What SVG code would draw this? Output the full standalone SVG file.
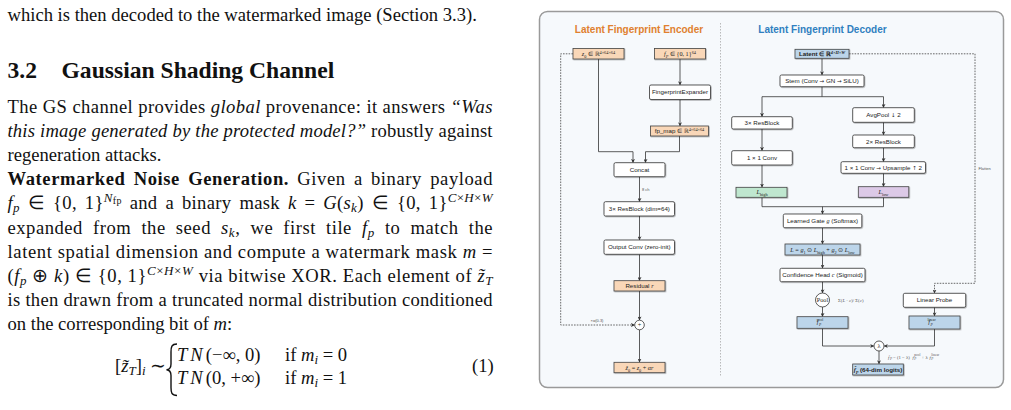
<svg xmlns="http://www.w3.org/2000/svg" width="1011" height="410" viewBox="0 0 1011 410">
<defs>
<style>
.p{font-family:"Liberation Serif","Times New Roman",serif;font-size:18.6px;fill:#111}
.h{font-family:"Liberation Serif","Times New Roman",serif;font-size:23.6px;font-weight:bold;fill:#111}
.i{font-style:italic}
.bd{font-weight:bold}
.w{fill:#fff;stroke:#333;stroke-width:0.8}
.o{fill:#f9d7b8;stroke:#444;stroke-width:0.8}
.b{fill:#bcd5ea;stroke:#444;stroke-width:0.8}
.g{fill:#bfe7cf;stroke:#444;stroke-width:0.8}
.v{fill:#dcc9e7;stroke:#444;stroke-width:0.8}
.t{font-family:"Liberation Sans",Arial,sans-serif;font-size:6.2px;fill:#222;text-anchor:middle}
.m{font-family:"Liberation Serif","Times New Roman",serif;font-size:6.2px;fill:#222;text-anchor:middle}
.ar{font-family:"DejaVu Sans",sans-serif;font-size:5.5px}
.s{font-family:"Liberation Sans",Arial,sans-serif;font-size:4px;fill:#555}
.f{font-family:"Liberation Serif","Times New Roman",serif;font-size:4.8px;fill:#555}
.c{fill:none;stroke:#333;stroke-width:0.8}
.d{fill:none;stroke:#444;stroke-width:0.8;stroke-dasharray:1.6 1.2}
</style>
<marker id="ar" viewBox="0 0 10 10" refX="9" refY="5" markerWidth="4" markerHeight="4" markerUnits="userSpaceOnUse" orient="auto">
<path d="M0,0 L10,5 L0,10 L3,5 z" fill="#333"/>
</marker>
<filter id="sh" x="-10%" y="-20%" width="130%" height="160%">
<feDropShadow dx="0.7" dy="0.7" stdDeviation="0.4" flood-color="#000" flood-opacity="0.35"/>
</filter>
</defs>

<!-- paper text -->
<g id="paper">
<text class="p" x="7.5" y="21">which is then decoded to the watermarked image (Section 3.3).</text>
<text class="h" x="7.5" y="78">3.2</text>
<text class="h" x="61.5" y="78">Gaussian Shading Channel</text>
<text class="p" x="7.5" y="112.5" textLength="485" lengthAdjust="spacing">The GS channel provides <tspan class="i">global</tspan> provenance: it answers <tspan class="i">“Was</tspan></text>
<text class="p" x="7.5" y="136.7" textLength="485" lengthAdjust="spacing"><tspan class="i">this image generated by the protected model?”</tspan> robustly against</text>
<text class="p" x="7.5" y="160.9">regeneration attacks.</text>
<text class="p" x="7.5" y="185.1" textLength="485" lengthAdjust="spacing" word-spacing="3"><tspan class="bd">Watermarked Noise Generation.</tspan>  Given a binary payload</text>
<text class="p" x="7.5" y="209.3" textLength="485" lengthAdjust="spacing" word-spacing="3"><tspan class="i">f</tspan><tspan class="i" font-size="13" baseline-shift="-3">p</tspan> ∈ {0, 1}<tspan class="i" font-size="13" baseline-shift="7">N</tspan><tspan font-size="10" baseline-shift="5">fp</tspan> and a binary mask <tspan class="i">k</tspan> = <tspan class="i">G</tspan>(<tspan class="i">s</tspan><tspan class="i" font-size="13" baseline-shift="-3">k</tspan>) ∈ {0, 1}<tspan class="i" font-size="13" baseline-shift="7">C</tspan><tspan font-size="13" baseline-shift="7">×</tspan><tspan class="i" font-size="13" baseline-shift="7">H</tspan><tspan font-size="13" baseline-shift="7">×</tspan><tspan class="i" font-size="13" baseline-shift="7">W</tspan></text>
<text class="p" x="7.5" y="233.5" textLength="485" lengthAdjust="spacing" word-spacing="5">expanded from the seed <tspan class="i">s</tspan><tspan class="i" font-size="13" baseline-shift="-3">k</tspan>, we first tile <tspan class="i">f</tspan><tspan class="i" font-size="13" baseline-shift="-3">p</tspan> to match the</text>
<text class="p" x="7.5" y="257.7" textLength="485" lengthAdjust="spacing">latent spatial dimension and compute a watermark mask <tspan class="i">m</tspan> =</text>
<text class="p" x="7.5" y="281.9" textLength="485" lengthAdjust="spacing">(<tspan class="i">f</tspan><tspan class="i" font-size="13" baseline-shift="-3">p</tspan> ⊕ <tspan class="i">k</tspan>) ∈ {0, 1}<tspan class="i" font-size="13" baseline-shift="7">C</tspan><tspan font-size="13" baseline-shift="7">×</tspan><tspan class="i" font-size="13" baseline-shift="7">H</tspan><tspan font-size="13" baseline-shift="7">×</tspan><tspan class="i" font-size="13" baseline-shift="7">W</tspan> via bitwise XOR. Each element of <tspan class="i">z̃</tspan><tspan class="i" font-size="13" baseline-shift="-3">T</tspan></text>
<text class="p" x="7.5" y="306.1" textLength="485" lengthAdjust="spacing">is then drawn from a truncated normal distribution conditioned</text>
<text class="p" x="7.5" y="330.3">on the corresponding bit of <tspan class="i">m</tspan>:</text>
<text class="p" x="115" y="372">[<tspan class="i">z̃</tspan><tspan class="i" font-size="13" baseline-shift="-3">T</tspan>]<tspan class="i" font-size="13" baseline-shift="-3">i</tspan> ∼</text>
<path d="M177,344 C171.5,344 171,347 171,352 L171,364 C171,368 169.5,369.5 166.5,369.8 C169.5,370.1 171,371.5 171,375.5 L171,387.5 C171,392.5 171.5,395.5 177,395.5" fill="none" stroke="#111" stroke-width="1.4"/>
<text class="p" x="177" y="361"><tspan class="i" letter-spacing="3">TN</tspan>(−∞, 0)</text>
<text class="p" x="285" y="361">if <tspan class="i">m</tspan><tspan class="i" font-size="13" baseline-shift="-3">i</tspan> = 0</text>
<text class="p" x="177" y="384"><tspan class="i" letter-spacing="3">TN</tspan>(0, +∞)</text>
<text class="p" x="285" y="384">if <tspan class="i">m</tspan><tspan class="i" font-size="13" baseline-shift="-3">i</tspan> = 1</text>
<text class="p" x="472" y="372">(1)</text>
</g>

<!-- panel -->
<g id="panel">
<rect x="539.5" y="11.5" width="464" height="376" rx="8" fill="#f6f9fc" stroke="#9a9a9a" stroke-width="1.5"/>
<line x1="720.5" y1="23" x2="720.5" y2="377" stroke="#aaa" stroke-width="0.8" stroke-dasharray="1.5 1.5"/>
<text x="639" y="32.5" font-family="Liberation Sans,Arial,sans-serif" font-size="10" font-weight="bold" fill="#e0802f" text-anchor="middle">Latent Fingerprint Encoder</text>
<text x="822.5" y="32.5" font-family="Liberation Sans,Arial,sans-serif" font-size="10" font-weight="bold" fill="#2f7fc0" text-anchor="middle">Latent Fingerprint Decoder</text>
</g>

<!-- connectors -->
<g id="connectors">
<path class="c" d="M680,59 V84.8" marker-end="url(#ar)"/>
<path class="c" d="M680,99.5 V125.8" marker-end="url(#ar)"/>
<path class="c" d="M598.5,59 V151.7 H633 V162.5" marker-end="url(#ar)"/>
<path class="c" d="M679.5,136 V151.7 H645.5 V162.5" marker-end="url(#ar)"/>
<path class="c" d="M639.5,176.7 V201.5" marker-end="url(#ar)"/>
<path class="c" d="M639.5,216 V239.8" marker-end="url(#ar)"/>
<path class="c" d="M639.5,254.3 V280.5" marker-end="url(#ar)"/>
<path class="c" d="M639.5,291 V320" marker-end="url(#ar)"/>
<path class="c" d="M639.5,329.8 V362.1" marker-end="url(#ar)"/>
<path class="d" d="M573,53.8 H560.7 V325 H634.5" marker-end="url(#ar)"/>
<text class="s" x="597" y="321.5" text-anchor="middle">×α(0.3)</text>
<text class="s" x="642" y="190.5">8 ch</text>

<path class="c" d="M822,58.3 V74.8" marker-end="url(#ar)"/>
<path class="c" d="M822,86.7 V96.7"/>
<path class="c" d="M762,96.7 H883.5"/>
<path class="c" d="M762,96.7 V116.5" marker-end="url(#ar)"/>
<path class="c" d="M883.5,96.7 V107.5" marker-end="url(#ar)"/>
<path class="c" d="M883.5,122.3 V134.8" marker-end="url(#ar)"/>
<path class="c" d="M883.5,147.7 V161.5" marker-end="url(#ar)"/>
<path class="c" d="M883.5,173.3 V186.5" marker-end="url(#ar)"/>
<path class="c" d="M762,129 V150.5" marker-end="url(#ar)"/>
<path class="c" d="M762,165 V187.1" marker-end="url(#ar)"/>
<path class="c" d="M762,197.3 V206.7 H883.5 V197.3"/>
<path class="c" d="M822.5,206.7 V213.8" marker-end="url(#ar)"/>
<path class="c" d="M822.5,227.7 V243.8" marker-end="url(#ar)"/>
<path class="c" d="M822.5,255 V268.1" marker-end="url(#ar)"/>
<path class="c" d="M822.5,281.7 V292.8" marker-end="url(#ar)"/>
<path class="c" d="M822.5,307 V316.5" marker-end="url(#ar)"/>
<path class="c" d="M822.5,328.3 V346 H873.8" marker-end="url(#ar)"/>
<path class="c" d="M934.5,307.3 V315.8" marker-end="url(#ar)"/>
<path class="c" d="M934.5,329 V346 H884.2" marker-end="url(#ar)"/>
<path class="c" d="M879,351 V363.8" marker-end="url(#ar)"/>
<path class="d" d="M849,53.8 H975 V283.3 H934.5 V293.1" marker-end="url(#ar)"/>
<text class="s" x="978.5" y="169.5">Flatten</text>
<text class="f" x="838" y="301.6">Σ(<tspan font-style="italic">L</tspan> · <tspan font-style="italic">c</tspan>)/ Σ(<tspan font-style="italic">c</tspan>)</text>
<text class="f"><tspan x="888" y="358.6" font-style="italic">f̂</tspan><tspan x="890" y="359.8" font-size="3.4" font-style="italic">P</tspan><tspan x="893" y="358.6">= (1 − λ)</tspan><tspan x="912.5" y="358.6" font-style="italic">f</tspan><tspan x="914.3" y="356.4" font-size="3.4">pool</tspan><tspan x="914.3" y="359.9" font-size="3.4" font-style="italic">P</tspan><tspan x="921.5" y="358.6">+ λ</tspan><tspan x="929.5" y="358.6" font-style="italic">f</tspan><tspan x="931.3" y="356.4" font-size="3.4">linear</tspan><tspan x="931.3" y="359.9" font-size="3.4" font-style="italic">P</tspan></text>
</g>

<!-- encoder nodes -->
<g id="enc_z0"><rect class="o" x="573" y="48.5" width="51" height="10.5" filter="url(#sh)"/><text class="m" x="598.5" y="56"><tspan font-style="italic">z</tspan><tspan font-size="4.3" baseline-shift="-1.5">0</tspan> ∈ ℝ<tspan font-size="4.3" baseline-shift="2.4">4×64×64</tspan></text></g>
<g id="enc_fp"><rect class="o" x="654.5" y="48.5" width="51" height="10.5" filter="url(#sh)"/><text class="m" x="680" y="56"><tspan font-style="italic">f</tspan><tspan font-size="4.3" font-style="italic" baseline-shift="-1.5">P</tspan> ∈ {0, 1}<tspan font-size="4.3" baseline-shift="2.4">64</tspan></text></g>
<g id="enc_expander"><rect class="w" x="649.5" y="85" width="61" height="14.5" rx="1.5" filter="url(#sh)"/><text class="t" x="680" y="94.4">FingerprintExpander</text></g>
<g id="enc_fpmap"><rect class="o" x="650.5" y="126" width="58" height="10" filter="url(#sh)"/><text class="t" x="679.5" y="133.2">fp_map <tspan font-family="Liberation Serif,serif">∈ ℝ</tspan><tspan font-size="4.3" baseline-shift="2.4" font-family="Liberation Serif,serif">4×64×64</tspan></text></g>
<g id="enc_concat"><rect class="w" x="614" y="162.7" width="51" height="14" rx="1.5" filter="url(#sh)"/><text class="t" x="639.5" y="171.9">Concat</text></g>
<g id="enc_resblock"><rect class="w" x="604" y="201.7" width="70.5" height="14.3" rx="1.5" filter="url(#sh)"/><text class="t" x="639.3" y="211">3× ResBlock (dim=64)</text></g>
<g id="enc_outconv"><rect class="w" x="604" y="240" width="70.5" height="14.3" rx="1.5" filter="url(#sh)"/><text class="t" x="639.3" y="249.3">Output Conv (zero-init)</text></g>
<g id="enc_residual"><rect class="o" x="614" y="280.7" width="51" height="10.3" filter="url(#sh)"/><text class="t" x="639.5" y="288">Residual <tspan font-family="Liberation Serif,serif" font-style="italic">r</tspan></text></g>
<g id="enc_add"><circle cx="639.5" cy="325" r="4.8" fill="#fff" stroke="#333" stroke-width="0.8"/><text class="m" x="639.5" y="327.3" font-size="6.5">+</text></g>
<g id="enc_out"><rect class="o" x="614" y="362.3" width="51" height="10.4" filter="url(#sh)"/><text class="m" x="639.5" y="369.7"><tspan font-style="italic">z̃</tspan><tspan font-size="4.3" baseline-shift="-1.5">0</tspan> = <tspan font-style="italic">z</tspan><tspan font-size="4.3" baseline-shift="-1.5">0</tspan> + <tspan font-style="italic">αr</tspan></text></g>

<!-- decoder nodes -->
<g id="dec_latent"><rect class="b" x="795" y="49.3" width="54" height="9" filter="url(#sh)"/><text class="t" x="822" y="55.8" font-weight="bold">Latent <tspan font-family="Liberation Serif,serif">∈ ℝ</tspan><tspan font-size="4.3" baseline-shift="2.4" font-family="Liberation Serif,serif" font-style="italic">4×H×W</tspan></text></g>
<g id="dec_stem"><rect class="w" x="780" y="75" width="84" height="11.7" rx="1.5" filter="url(#sh)"/><text class="t" x="822" y="83">Stem (Conv <tspan class="ar">→</tspan> GN <tspan class="ar">→</tspan> SiLU)</text></g>
<g id="dec_res3"><rect class="w" x="731.7" y="116.7" width="60.6" height="12.3" rx="1.5" filter="url(#sh)"/><text class="t" x="762" y="125">3× ResBlock</text></g>
<g id="dec_avgpool"><rect class="w" x="852.7" y="107.7" width="61.6" height="14.6" rx="1.5" filter="url(#sh)"/><text class="t" x="883.5" y="117.1">AvgPool <tspan class="ar">↓</tspan> 2</text></g>
<g id="dec_res2"><rect class="w" x="852.7" y="135" width="61.6" height="12.7" rx="1.5" filter="url(#sh)"/><text class="t" x="883.5" y="143.5">2× ResBlock</text></g>
<g id="dec_up"><rect class="w" x="841" y="161.7" width="84.5" height="11.6" rx="1.5" filter="url(#sh)"/><text class="t" x="883.3" y="169.7">1 × 1 Conv <tspan class="ar">→</tspan> Upsample <tspan class="ar">↑</tspan> 2</text></g>
<g id="dec_llow"><rect class="v" x="858.3" y="186.7" width="50.5" height="10.6" filter="url(#sh)"/><text class="m" x="883.5" y="193.9"><tspan font-style="italic">L</tspan><tspan font-size="4.3" baseline-shift="-1.5">low</tspan></text></g>
<g id="dec_conv1"><rect class="w" x="731.7" y="150.7" width="60.6" height="14.3" rx="1.5" filter="url(#sh)"/><text class="t" x="762" y="160">1 × 1 Conv</text></g>
<g id="dec_lhigh"><rect class="g" x="736" y="187.3" width="51" height="10" filter="url(#sh)"/><text class="m" x="762" y="194.3"><tspan font-style="italic">L</tspan><tspan font-size="4.3" baseline-shift="-1.5">high</tspan></text></g>
<g id="dec_gate"><rect class="w" x="783.3" y="214" width="78.5" height="13.7" rx="1.5" filter="url(#sh)"/><text class="t" x="822.5" y="223">Learned Gate <tspan font-family="Liberation Serif,serif" font-style="italic">g</tspan> (Softmax)</text></g>
<g id="dec_fuse"><rect class="b" x="785" y="244" width="75" height="11" filter="url(#sh)"/><text class="m" x="822.5" y="251.7"><tspan font-style="italic">L</tspan> = <tspan font-style="italic">g</tspan><tspan font-size="4.3" baseline-shift="-1.5">1</tspan> ⊙ <tspan font-style="italic">L</tspan><tspan font-size="4.3" baseline-shift="-1.5">high</tspan> + <tspan font-style="italic">g</tspan><tspan font-size="4.3" baseline-shift="-1.5">2</tspan> ⊙ <tspan font-style="italic">L</tspan><tspan font-size="4.3" baseline-shift="-1.5">low</tspan></text></g>
<g id="dec_conf"><rect class="w" x="780" y="268.3" width="85" height="13.4" rx="1.5" filter="url(#sh)"/><text class="t" x="822.5" y="277.2">Confidence Head <tspan font-family="Liberation Serif,serif" font-style="italic">c</tspan> (Sigmoid)</text></g>
<g id="dec_pool"><circle cx="822.5" cy="300" r="7" fill="#fff" stroke="#333" stroke-width="0.8"/><text class="m" x="822.5" y="301.8" font-size="5">Pool</text></g>
<g id="dec_fpool"><rect class="b" x="797" y="316.7" width="51" height="11.6" filter="url(#sh)"/><text class="m" text-anchor="start"><tspan x="817.5" y="324.3" font-style="italic">f</tspan><tspan x="820" y="321.2" font-size="3.6">pool</tspan><tspan x="820" y="325.6" font-size="3.6" font-style="italic">P</tspan></text></g>
<g id="dec_linear"><rect class="w" x="903.3" y="293.3" width="62.4" height="14" rx="1.5" filter="url(#sh)"/><text class="t" x="934.5" y="302.4">Linear Probe</text></g>
<g id="dec_flin"><rect class="b" x="909" y="316" width="51" height="13" filter="url(#sh)"/><text class="m" text-anchor="start"><tspan x="929" y="324.3" font-style="italic">f</tspan><tspan x="931.5" y="321.2" font-size="3.6">linear</tspan><tspan x="931.5" y="325.6" font-size="3.6" font-style="italic">P</tspan></text></g>
<g id="dec_lambda"><circle cx="879" cy="346" r="5" fill="#fff" stroke="#333" stroke-width="0.8"/><text class="m" x="879" y="348.1" font-size="6">λ</text></g>
<g id="dec_final"><rect class="b" x="852.7" y="364" width="50.6" height="11" filter="url(#sh)"/><text class="t" x="878" y="371.7" font-weight="bold"><tspan font-family="Liberation Serif,serif" font-style="italic">f̂</tspan><tspan font-size="4.3" baseline-shift="-1.5" font-family="Liberation Serif,serif" font-style="italic">P</tspan> (64-dim logits)</text></g>
</svg>
